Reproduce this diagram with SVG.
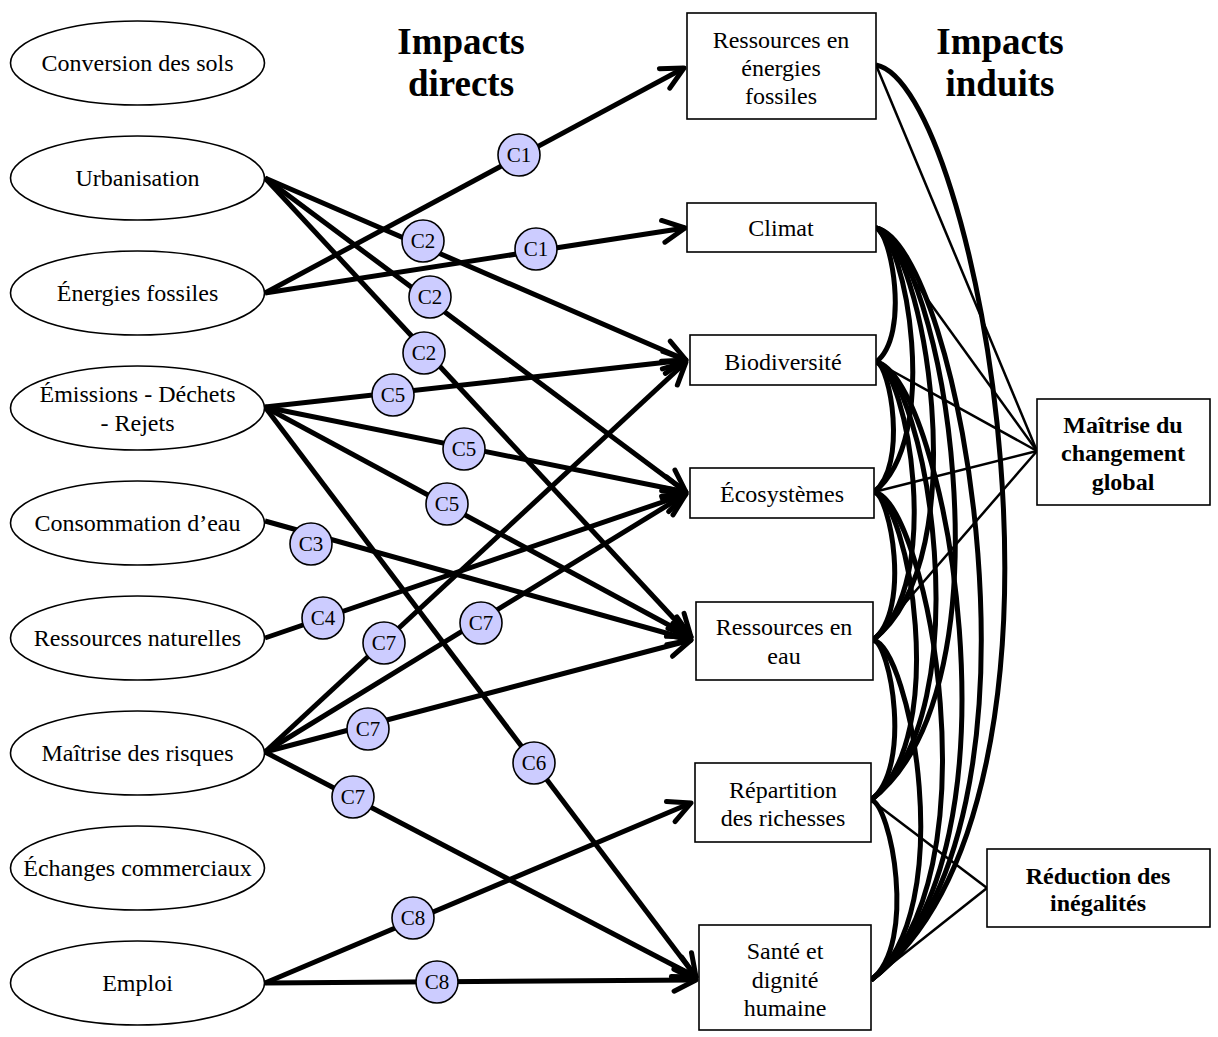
<svg xmlns="http://www.w3.org/2000/svg" width="1218" height="1037" viewBox="0 0 1218 1037">
<style>
.ell{fill:#fff;stroke:#000;stroke-width:1.6}
.box{fill:#fff;stroke:#000;stroke-width:1.6}
.t{font-family:"Liberation Serif","Times New Roman",serif;font-size:24px;text-anchor:middle;fill:#000}
.b{font-weight:bold}
.h{font-family:"Liberation Serif","Times New Roman",serif;font-size:37px;font-weight:bold;text-anchor:middle;fill:#000}
.arr{stroke:#000;stroke-width:5;fill:none;marker-end:url(#ah)}
.thin{stroke:#000;stroke-width:2.5;fill:none}
.arc{stroke:#000;stroke-width:5;fill:none}
.cc{fill:#ccccff;stroke:#000;stroke-width:1.6}
.ct{font-family:"Liberation Serif","Times New Roman",serif;font-size:21px;text-anchor:middle;fill:#000}
</style>
<defs>
<marker id="ah" viewBox="-30 -16 36 32" refX="0" refY="0" markerWidth="36" markerHeight="32" markerUnits="userSpaceOnUse" orient="auto" overflow="visible">
<path d="M-22,-11 L0,0 L-22,11" fill="none" stroke="#000" stroke-width="5" stroke-linecap="round" stroke-linejoin="round"/>
</marker>
</defs>
<rect width="1218" height="1037" fill="#fff"/>
<text class="h" x="461" y="54">Impacts</text>
<text class="h" x="461" y="96">directs</text>
<text class="h" x="1000" y="54">Impacts</text>
<text class="h" x="1000" y="96">induits</text>
<g id="connectors">
<path class="arc" d="M876,65 C976.7,83.3 1108.9,797 871,980"/>
<path class="arc" d="M876,228 C890.7,230.7 910.8,335.2 876,362"/>
<path class="arc" d="M876,228 C905,233.3 942.6,439.2 874,492"/>
<path class="arc" d="M876,228 C921.3,236.2 980.1,557.6 873,640"/>
<path class="arc" d="M876,228 C938.9,239.4 1019.7,685.6 871,800"/>
<path class="arc" d="M876,228 C958.7,243 1066.5,829.6 871,980"/>
<path class="arc" d="M876,362 C890.3,364.6 907.8,466 874,492"/>
<path class="arc" d="M876,362 C906.6,367.6 945.3,584.4 873,640"/>
<path class="arc" d="M876,362 C924.2,370.8 984.9,712.4 871,800"/>
<path class="arc" d="M876,362 C944,374.4 1031.7,856.4 871,980"/>
<path class="arc" d="M874,492 C890.3,495 911.5,610.4 873,640"/>
<path class="arc" d="M874,492 C907.9,498.2 951.1,738.4 871,800"/>
<path class="arc" d="M874,492 C927.7,501.8 997.9,882.4 871,980"/>
<path class="arc" d="M873,640 C890.6,643.2 912.6,768 871,800"/>
<path class="arc" d="M873,640 C910.4,646.8 959.4,912 871,980"/>
<path class="arc" d="M871,800 C890.8,803.6 917.8,944 871,980"/>
<line class="thin" x1="876" y1="65" x2="1037" y2="451"/>
<line class="thin" x1="876" y1="228" x2="1037" y2="451"/>
<line class="thin" x1="876" y1="362" x2="1037" y2="451"/>
<line class="thin" x1="874" y1="492" x2="1037" y2="451"/>
<line class="thin" x1="873" y1="640" x2="1037" y2="451"/>
<line class="thin" x1="871" y1="800" x2="987" y2="888"/>
<line class="thin" x1="871" y1="980" x2="987" y2="888"/>
<line class="arr" x1="265" y1="293" x2="684" y2="68"/>
<line class="arr" x1="265" y1="293" x2="685" y2="228"/>
<line class="arr" x1="265" y1="178" x2="686" y2="360"/>
<line class="arr" x1="265" y1="178" x2="686" y2="492"/>
<line class="arr" x1="265" y1="178" x2="691" y2="637"/>
<line class="arr" x1="265" y1="407" x2="686" y2="360"/>
<line class="arr" x1="265" y1="407" x2="686" y2="492"/>
<line class="arr" x1="265" y1="407" x2="691" y2="637"/>
<line class="arr" x1="265" y1="407" x2="696" y2="977"/>
<line class="arr" x1="265" y1="521" x2="691" y2="640"/>
<line class="arr" x1="265" y1="638" x2="686" y2="494"/>
<line class="arr" x1="265" y1="752" x2="686" y2="362"/>
<line class="arr" x1="265" y1="752" x2="686" y2="494"/>
<line class="arr" x1="265" y1="752" x2="691" y2="640"/>
<line class="arr" x1="265" y1="752" x2="696" y2="977"/>
<line class="arr" x1="265" y1="983" x2="691" y2="803"/>
<line class="arr" x1="265" y1="983" x2="696" y2="980"/>
<g id="labels">
<circle class="cc" cx="519" cy="155" r="21"/><text class="ct" x="519" y="162">C1</text>
<circle class="cc" cx="536" cy="249" r="21"/><text class="ct" x="536" y="256">C1</text>
<circle class="cc" cx="423" cy="241" r="21"/><text class="ct" x="423" y="248">C2</text>
<circle class="cc" cx="430" cy="297" r="21"/><text class="ct" x="430" y="304">C2</text>
<circle class="cc" cx="424" cy="353" r="21"/><text class="ct" x="424" y="360">C2</text>
<circle class="cc" cx="393" cy="395" r="21"/><text class="ct" x="393" y="402">C5</text>
<circle class="cc" cx="464" cy="449" r="21"/><text class="ct" x="464" y="456">C5</text>
<circle class="cc" cx="447" cy="504" r="21"/><text class="ct" x="447" y="511">C5</text>
<circle class="cc" cx="311" cy="544" r="21"/><text class="ct" x="311" y="551">C3</text>
<circle class="cc" cx="323" cy="618" r="21"/><text class="ct" x="323" y="625">C4</text>
<circle class="cc" cx="384" cy="643" r="21"/><text class="ct" x="384" y="650">C7</text>
<circle class="cc" cx="481" cy="623" r="21"/><text class="ct" x="481" y="630">C7</text>
<circle class="cc" cx="368" cy="729" r="21"/><text class="ct" x="368" y="736">C7</text>
<circle class="cc" cx="353" cy="797" r="21"/><text class="ct" x="353" y="804">C7</text>
<circle class="cc" cx="534" cy="763" r="21"/><text class="ct" x="534" y="770">C6</text>
<circle class="cc" cx="413" cy="918" r="21"/><text class="ct" x="413" y="925">C8</text>
<circle class="cc" cx="437" cy="982" r="21"/><text class="ct" x="437" y="989">C8</text>
</g>
</g>
<g id="n-conversion"><ellipse class="ell" cx="137.5" cy="63" rx="127" ry="42"/><text class="t" x="137.5" y="71">Conversion des sols</text></g>
<g id="n-urbanisation"><ellipse class="ell" cx="137.5" cy="178" rx="127" ry="42"/><text class="t" x="137.5" y="186">Urbanisation</text></g>
<g id="n-energies"><ellipse class="ell" cx="137.5" cy="293" rx="127" ry="42"/><text class="t" x="137.5" y="301">Énergies fossiles</text></g>
<g id="n-emissions"><ellipse class="ell" cx="137.5" cy="408" rx="127" ry="42"/><text class="t" x="137.5" y="402">Émissions - Déchets</text><text class="t" x="137.5" y="431">- Rejets</text></g>
<g id="n-eau"><ellipse class="ell" cx="137.5" cy="523" rx="127" ry="42"/><text class="t" x="137.5" y="531">Consommation d’eau</text></g>
<g id="n-ressources"><ellipse class="ell" cx="137.5" cy="638" rx="127" ry="42"/><text class="t" x="137.5" y="646">Ressources naturelles</text></g>
<g id="n-risques"><ellipse class="ell" cx="137.5" cy="753" rx="127" ry="42"/><text class="t" x="137.5" y="761">Maîtrise des risques</text></g>
<g id="n-echanges"><ellipse class="ell" cx="137.5" cy="868" rx="127" ry="42"/><text class="t" x="137.5" y="876">Échanges commerciaux</text></g>
<g id="n-emploi"><ellipse class="ell" cx="137.5" cy="983" rx="127" ry="42"/><text class="t" x="137.5" y="991">Emploi</text></g>
<g id="i-fossiles"><rect class="box" x="687" y="13" width="189" height="106"/><text class="t" x="781" y="48">Ressources en</text><text class="t" x="781" y="76">énergies</text><text class="t" x="781" y="104">fossiles</text></g>
<g id="i-climat"><rect class="box" x="687" y="203" width="189" height="49"/><text class="t" x="781" y="236">Climat</text></g>
<g id="i-biodiv"><rect class="box" x="690" y="335" width="186" height="50"/><text class="t" x="783" y="370">Biodiversité</text></g>
<g id="i-eco"><rect class="box" x="690" y="468" width="184" height="50"/><text class="t" x="782" y="502">Écosystèmes</text></g>
<g id="i-eau"><rect class="box" x="696" y="602" width="177" height="78"/><text class="t" x="784" y="635">Ressources en</text><text class="t" x="784" y="664">eau</text></g>
<g id="i-repartition"><rect class="box" x="695" y="763" width="176" height="79"/><text class="t" x="783" y="798">Répartition</text><text class="t" x="783" y="826">des richesses</text></g>
<g id="i-sante"><rect class="box" x="699" y="925" width="172" height="105"/><text class="t" x="785" y="959">Santé et</text><text class="t" x="785" y="988">dignité</text><text class="t" x="785" y="1016">humaine</text></g>
<g id="o-changement"><rect class="box" x="1037" y="399" width="173" height="106"/><text class="t b" x="1123" y="433">Maîtrise du</text><text class="t b" x="1123" y="461">changement</text><text class="t b" x="1123" y="490">global</text></g>
<g id="o-inegalites"><rect class="box" x="987" y="849" width="223" height="78"/><text class="t b" x="1098" y="884">Réduction des</text><text class="t b" x="1098" y="911">inégalités</text></g>
</svg>
